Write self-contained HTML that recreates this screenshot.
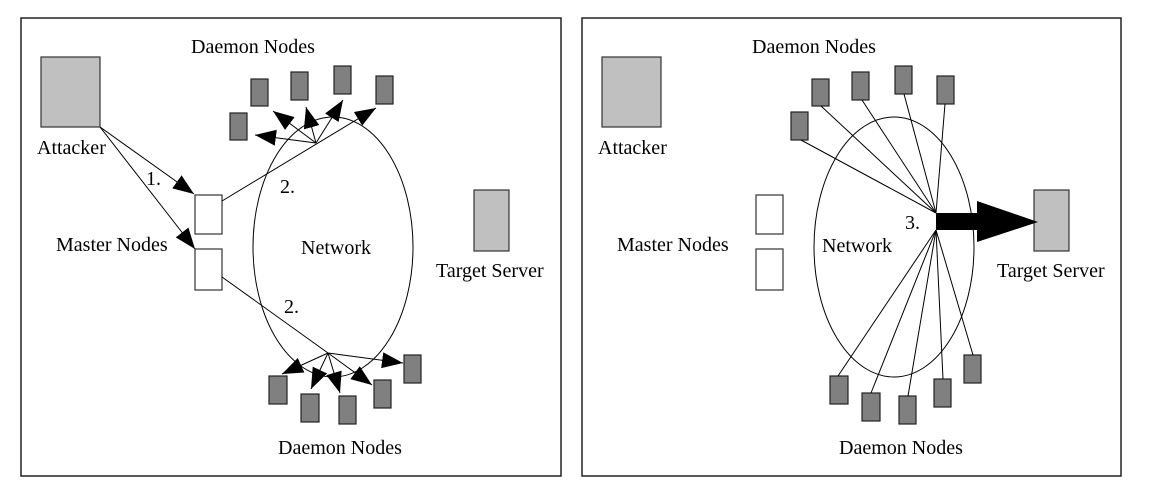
<!DOCTYPE html>
<html><head><style>
html,body{margin:0;padding:0;background:#fff;}
svg{display:block;}
</style></head><body>
<svg width="1154" height="494" viewBox="0 0 1154 494" xmlns="http://www.w3.org/2000/svg">
<defs>
<marker id="ah" markerWidth="22" markerHeight="18" refX="21" refY="8" orient="auto" markerUnits="userSpaceOnUse">
<path d="M0,0 L21,8 L0,16 Z" fill="#000"/>
</marker>
</defs>
<!-- LEFT PANEL -->
<rect x="21" y="18" width="540" height="458" fill="none" stroke="#222" stroke-width="1.5"/>
<ellipse cx="333" cy="247" rx="80" ry="130" fill="none" stroke="#000" stroke-width="1"/>
<rect x="41" y="57" width="59" height="70" fill="#c0c0c0" stroke="#333" stroke-width="1.2"/>
<rect x="195" y="195" width="27" height="39" fill="#fff" stroke="#333" stroke-width="1.2"/>
<rect x="195" y="249" width="27" height="41" fill="#fff" stroke="#333" stroke-width="1.2"/>
<rect x="474" y="190" width="35" height="61" fill="#c0c0c0" stroke="#333" stroke-width="1.2"/>
<g fill="#808080" stroke="#222" stroke-width="1.2">
<rect x="230" y="113" width="17" height="27"/>
<rect x="251" y="79" width="17" height="27"/>
<rect x="291" y="72" width="17" height="28"/>
<rect x="334" y="66" width="17" height="28"/>
<rect x="376" y="76" width="17" height="28"/>
<rect x="269" y="376" width="18" height="28"/>
<rect x="301" y="394" width="18" height="28"/>
<rect x="339" y="396" width="17" height="28"/>
<rect x="374" y="380" width="17" height="28"/>
<rect x="404" y="355" width="17" height="28"/>
</g>
<g stroke="#000" stroke-width="1" fill="none">
<line x1="100" y1="127" x2="194" y2="194" marker-end="url(#ah)"/>
<line x1="100" y1="127" x2="195" y2="249" marker-end="url(#ah)"/>
<line x1="222" y1="201" x2="376" y2="108" marker-end="url(#ah)"/>
<line x1="316" y1="143" x2="255" y2="135" marker-end="url(#ah)"/>
<line x1="316" y1="143" x2="273" y2="111" marker-end="url(#ah)"/>
<line x1="316" y1="143" x2="306" y2="107" marker-end="url(#ah)"/>
<line x1="316" y1="143" x2="343" y2="100" marker-end="url(#ah)"/>
<line x1="222" y1="277" x2="328" y2="353"/>
<line x1="328" y1="353" x2="282" y2="374" marker-end="url(#ah)"/>
<line x1="328" y1="353" x2="311" y2="389" marker-end="url(#ah)"/>
<line x1="328" y1="353" x2="340" y2="393" marker-end="url(#ah)"/>
<line x1="328" y1="353" x2="372" y2="385" marker-end="url(#ah)"/>
<line x1="328" y1="353" x2="403" y2="363" marker-end="url(#ah)"/>
</g>
<g font-family="'Liberation Serif','DejaVu Serif',serif" font-size="20" fill="#000">
<text x="191" y="53">Daemon Nodes</text>
<text x="37" y="154">Attacker</text>
<text x="146" y="185">1.</text>
<text x="280" y="193">2.</text>
<text x="284" y="313">2.</text>
<text x="56" y="251">Master Nodes</text>
<text x="301" y="254">Network</text>
<text x="436" y="277">Target Server</text>
<text x="278" y="454">Daemon Nodes</text>
</g>

<!-- RIGHT PANEL -->
<rect x="582" y="18" width="539" height="458" fill="none" stroke="#222" stroke-width="1.5"/>
<ellipse cx="894" cy="247" rx="80" ry="130" fill="none" stroke="#000" stroke-width="1"/>
<rect x="602" y="57" width="59" height="70" fill="#c0c0c0" stroke="#333" stroke-width="1.2"/>
<rect x="756" y="195" width="27" height="39" fill="#fff" stroke="#333" stroke-width="1.2"/>
<rect x="756" y="249" width="27" height="41" fill="#fff" stroke="#333" stroke-width="1.2"/>
<rect x="1034" y="190" width="35" height="61" fill="#c0c0c0" stroke="#333" stroke-width="1.2"/>
<g fill="#808080" stroke="#222" stroke-width="1.2">
<rect x="791" y="112" width="17" height="28"/>
<rect x="812" y="79" width="17" height="27"/>
<rect x="852" y="72" width="17" height="28"/>
<rect x="895" y="66" width="17" height="28"/>
<rect x="937" y="76" width="17" height="28"/>
<rect x="830" y="376" width="18" height="28"/>
<rect x="862" y="393" width="18" height="28"/>
<rect x="899" y="396" width="17" height="28"/>
<rect x="934" y="379" width="17" height="28"/>
<rect x="964" y="355" width="17" height="28"/>
</g>
<g stroke="#000" stroke-width="1">
<line x1="936" y1="213" x2="801" y2="140"/>
<line x1="936" y1="213" x2="821" y2="106"/>
<line x1="936" y1="213" x2="862" y2="100"/>
<line x1="936" y1="213" x2="904" y2="94"/>
<line x1="936" y1="213" x2="945" y2="104"/>
<line x1="936" y1="230" x2="838" y2="376"/>
<line x1="936" y1="230" x2="871" y2="393"/>
<line x1="936" y1="230" x2="908" y2="396"/>
<line x1="936" y1="230" x2="943" y2="379"/>
<line x1="936" y1="230" x2="973" y2="355"/>
</g>
<path d="M936,213 L977,213 L977,201 L1038,222 L977,242 L977,230 L936,230 Z" fill="#000"/>
<g font-family="'Liberation Serif','DejaVu Serif',serif" font-size="20" fill="#000">
<text x="752" y="53">Daemon Nodes</text>
<text x="598" y="154">Attacker</text>
<text x="905" y="229">3.</text>
<text x="617" y="251">Master Nodes</text>
<text x="822" y="252">Network</text>
<text x="997" y="277">Target Server</text>
<text x="839" y="454">Daemon Nodes</text>
</g>
</svg>
</body></html>
